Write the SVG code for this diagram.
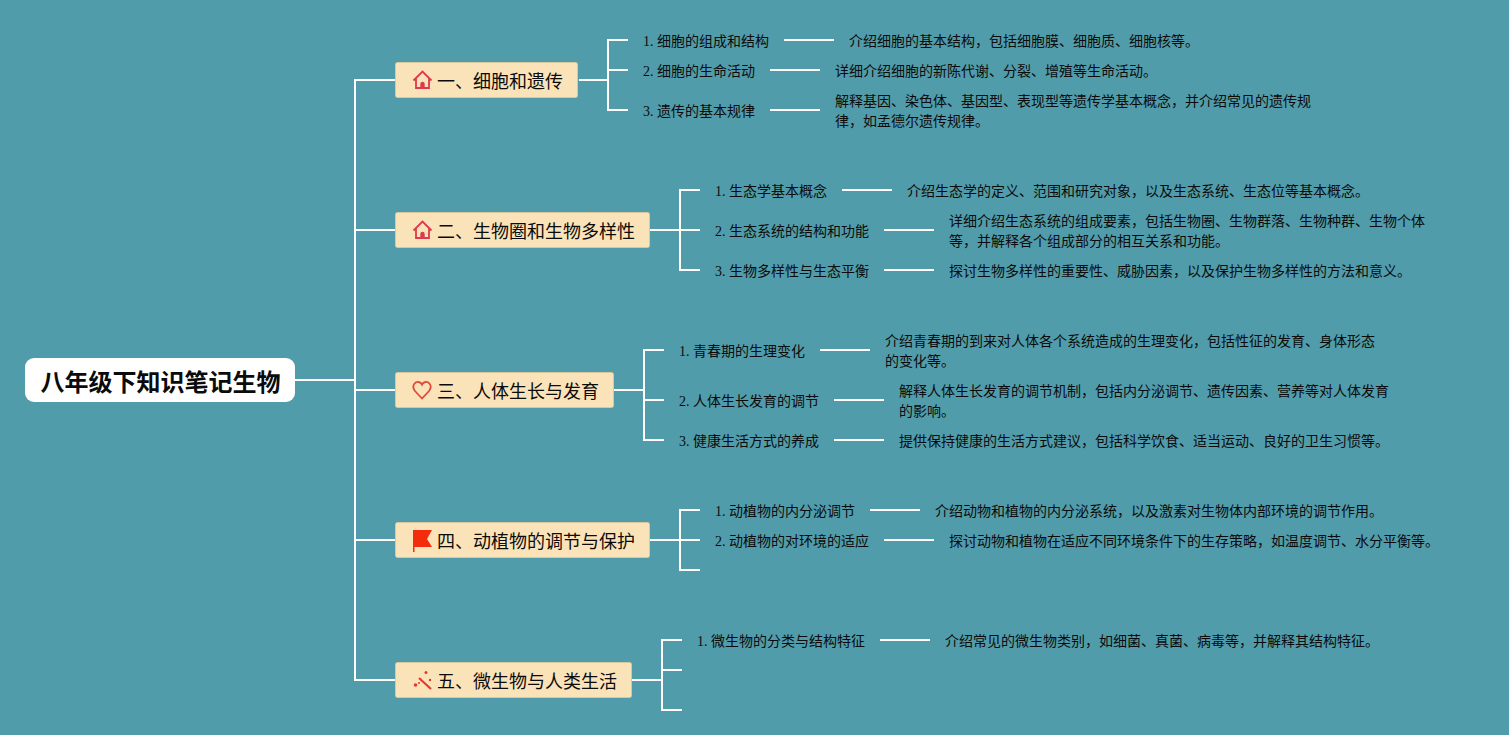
<svg xmlns="http://www.w3.org/2000/svg" width="1509" height="735" viewBox="0 0 1509 735">
<defs><style>
text{font-family:"Liberation Serif","Noto Sans CJK SC",serif;fill:#0b0b0b}
.t{font-size:14px}
.b{font-size:18px}
.r{font-size:24px;font-weight:700;font-family:"Liberation Sans","Noto Sans CJK SC",sans-serif}
.box{fill:#fbe3b9;stroke:#d9c79d;stroke-width:1}
.c{fill:none;stroke:#fff;stroke-width:2}
.ic{fill:none;stroke:#dd3a4e;stroke-width:1.800}
</style>
<g id="house"><path class="ic" d="M-9 0.500 L0 -8.500 L9 0.500 M-6.500 -2 V8 H6.500 V-2"/><path d="M-2.200 8 V4 A2.200 2.200 0 0 1 2.200 4 V8 Z" fill="#dd3a4e"/></g>
</defs>
<rect width="1509" height="735" fill="#519caa"/>
<g id="connectors" class="c">
<path class="c" d="M295 380 H355 M395 80 H355 V680 H395 M355 230 H395 M355 390 H395 M355 540 H395"/>
<path class="c" d="M579 80 H608 M628 40 H608 V110 H628 M608 70 H628"/>
<path class="c" d="M784 40 H834 M770 70 H820 M770 110 H820"/>
<path class="c" d="M650 230 H680 M700 190 H680 V270 H700 M680 230 H700"/>
<path class="c" d="M842 190 H892 M884 230 H934 M884 270 H934"/>
<path class="c" d="M614 390 H644 M664 350 H644 V440 H664 M644 400 H664"/>
<path class="c" d="M820 350 H870 M834 400 H884 M834 440 H884"/>
<path class="c" d="M650 540 H680 M700 510 H680 V570 H700 M680 540 H700"/>
<path class="c" d="M870 510 H920 M884 540 H934"/>
<path class="c" d="M632 680 H662 M682 640 H662 V710 H682 M662 670 H682"/>
<path class="c" d="M880 640 H930"/>
</g>
<g id="root"><rect x="25" y="358" width="270" height="44" rx="9" fill="#fff"/><text class="r" x="40.500" y="391">八年级下知识笔记生物</text></g>
<g id="b1"><rect class="box" x="395.500" y="62.500" width="182" height="35" rx="2"/><use href="#house" x="422.500" y="80"/><text class="b" x="437" y="87.500">一、细胞和遗传</text></g>
<g id="b2"><rect class="box" x="395.500" y="212.500" width="254" height="35" rx="2"/><use href="#house" x="422.500" y="230"/><text class="b" x="437" y="237.500">二、生物圈和生物多样性</text></g>
<g id="b3"><rect class="box" x="395.500" y="372.500" width="218" height="35" rx="2"/><path d="M422 398.500 L415 391 C411 386 415 381.500 418.500 382 C420 382.200 421.300 383 422 384.500 C422.700 383 424 382.200 425.500 382 C429 381.500 433 386 429 391 Z" fill="none" stroke="#de4a3c" stroke-width="1.800"/><text class="b" x="437" y="397.500">三、人体生长与发育</text></g>
<g id="b4"><rect class="box" x="395.500" y="522.500" width="254" height="35" rx="2"/><path d="M413 530 H432 L427 539 L432 547 H414.500 V552 H413 Z" fill="#f52c0c"/><text class="b" x="437" y="547.500">四、动植物的调节与保护</text></g>
<g id="b5"><rect class="box" x="395.500" y="662.500" width="236" height="35" rx="2"/><path d="M419 678 L431 689" stroke="#e23a2c" stroke-width="2.200" fill="none"/><circle cx="415.500" cy="685" r="1.800" fill="#e23a2c"/><circle cx="426" cy="672.500" r="1.500" fill="#e23a2c"/><circle cx="430" cy="680" r="1.200" fill="#e23a2c"/><circle cx="419" cy="683" r="1" fill="#e23a2c"/><text class="b" x="437" y="687.500">五、微生物与人类生活</text></g>
<g id="n1-1"><text class="t" x="643" y="46">1. 细胞的组成和结构</text><text class="t" x="849" y="46">介绍细胞的基本结构，包括细胞膜、细胞质、细胞核等。</text></g>
<g id="n1-2"><text class="t" x="643" y="76">2. 细胞的生命活动</text><text class="t" x="835" y="76">详细介绍细胞的新陈代谢、分裂、增殖等生命活动。</text></g>
<g id="n1-3"><text class="t" x="643" y="116">3. 遗传的基本规律</text><text class="t" x="835" y="106">解释基因、染色体、基因型、表现型等遗传学基本概念，并介绍常见的遗传规</text><text class="t" x="835" y="126">律，如孟德尔遗传规律。</text></g>
<g id="n2-1"><text class="t" x="715" y="196">1. 生态学基本概念</text><text class="t" x="907" y="196">介绍生态学的定义、范围和研究对象，以及生态系统、生态位等基本概念。</text></g>
<g id="n2-2"><text class="t" x="715" y="236">2. 生态系统的结构和功能</text><text class="t" x="949" y="226">详细介绍生态系统的组成要素，包括生物圈、生物群落、生物种群、生物个体</text><text class="t" x="949" y="246">等，并解释各个组成部分的相互关系和功能。</text></g>
<g id="n2-3"><text class="t" x="715" y="276">3. 生物多样性与生态平衡</text><text class="t" x="949" y="276">探讨生物多样性的重要性、威胁因素，以及保护生物多样性的方法和意义。</text></g>
<g id="n3-1"><text class="t" x="679" y="356">1. 青春期的生理变化</text><text class="t" x="885" y="346">介绍青春期的到来对人体各个系统造成的生理变化，包括性征的发育、身体形态</text><text class="t" x="885" y="366">的变化等。</text></g>
<g id="n3-2"><text class="t" x="679" y="406">2. 人体生长发育的调节</text><text class="t" x="899" y="396">解释人体生长发育的调节机制，包括内分泌调节、遗传因素、营养等对人体发育</text><text class="t" x="899" y="416">的影响。</text></g>
<g id="n3-3"><text class="t" x="679" y="446">3. 健康生活方式的养成</text><text class="t" x="899" y="446">提供保持健康的生活方式建议，包括科学饮食、适当运动、良好的卫生习惯等。</text></g>
<g id="n4-1"><text class="t" x="715" y="516">1. 动植物的内分泌调节</text><text class="t" x="935" y="516">介绍动物和植物的内分泌系统，以及激素对生物体内部环境的调节作用。</text></g>
<g id="n4-2"><text class="t" x="715" y="546">2. 动植物的对环境的适应</text><text class="t" x="949" y="546">探讨动物和植物在适应不同环境条件下的生存策略，如温度调节、水分平衡等。</text></g>
<g id="n5-1"><text class="t" x="697" y="646">1. 微生物的分类与结构特征</text><text class="t" x="945" y="646">介绍常见的微生物类别，如细菌、真菌、病毒等，并解释其结构特征。</text></g>
</svg>
